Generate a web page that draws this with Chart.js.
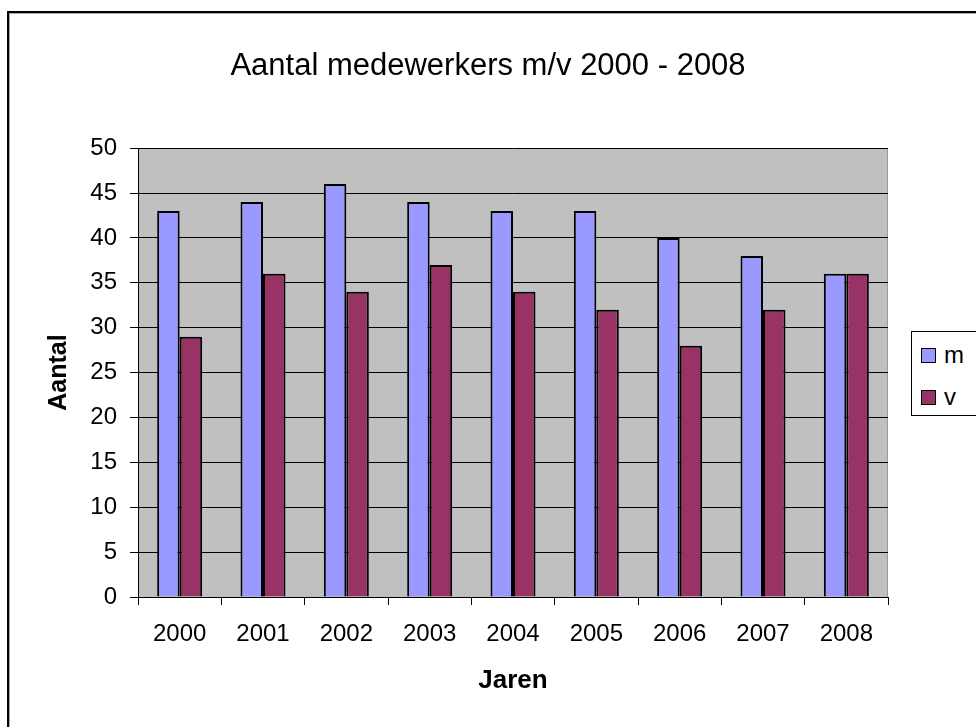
<!DOCTYPE html>
<html>
<head>
<meta charset="utf-8">
<title>Aantal medewerkers m/v 2000 - 2008</title>
<script src="https://cdn.jsdelivr.net/npm/chart.js@4.4.1/dist/chart.umd.min.js"></script>
<style>
	html, body {
		margin: 0;
		padding: 0;
		background: #fff;
	}

	.chart-wrap {
		position: relative;
		width: 976px;
		height: 727px;
		overflow: hidden;
	}

	#chart {
		display: block;
	}

	.legend {
		position: absolute;
		left: 911px;
		top: 331px;
		width: 70px;
		height: 83px;
		border: 1px solid #000;
		background: #fff;
		font-family: "Liberation Sans", Arial, sans-serif;
		font-size: 24px;
		color: #000;
	}

	.legend-item {
		position: absolute;
		left: 9px;
		height: 16px;
		display: flex;
		align-items: center;
	}

	.legend-box {
		width: 13px;
		height: 13px;
		border: 1px solid #000;
		margin-right: 8px;
	}
</style>
</head>
<body>
<div class="chart-wrap">
	<canvas id="chart" width="976" height="727"></canvas>
	<div class="legend" id="legend"></div>
</div>
<script>
const years = ["2000", "2001", "2002", "2003", "2004", "2005", "2006", "2007", "2008"];
const mannen = [43, 44, 46, 44, 43, 43, 40, 38, 36];
const vrouwen = [29, 36, 34, 37, 34, 32, 28, 32, 36];
const seriesNames = ["m", "v"];

const plotGray = "#c0c0c0";
const fontFamily = "'Liberation Sans', Arial, sans-serif";

Chart.defaults.font.family = fontFamily;
Chart.defaults.color = "#000";

// grijze achtergrond van het plotgebied + kader rond de grafiek
const plotBackground = {
	id: "plotBackground",
	afterLayout(chart) {
		// titel boven het hele blad centreren, niet alleen boven het plotgebied
		if (chart.titleBlock) {
			chart.titleBlock.left = 0;
			chart.titleBlock.right = chart.width;
		}
	},
	beforeDraw(chart) {
		const { ctx, chartArea: a } = chart;
		ctx.save();
		ctx.fillStyle = "#fff";
		ctx.fillRect(0, 0, chart.width, chart.height);

		ctx.fillStyle = "#000";
		ctx.fillRect(7, 11, 2, chart.height - 11);
		ctx.fillRect(7, 11, chart.width - 7, 2);
		ctx.fillStyle = "#a8a8a8";
		ctx.fillRect(9, 13, 1, chart.height - 13);
		ctx.fillRect(9, 13, chart.width - 9, 1);

		ctx.fillStyle = plotGray;
		ctx.fillRect(a.left, a.top, a.right - a.left, a.bottom - a.top);
		ctx.fillStyle = "#9a9a9a";
		ctx.fillRect(a.right - 1, a.top, 1, a.bottom - a.top);
		ctx.restore();
	}
};

const chart = new Chart(document.getElementById("chart"), {
	type: "bar",
	data: {
		labels: years,
		datasets: [
			{
				label: seriesNames[0],
				data: mannen,
				backgroundColor: "#9999ff",
				borderColor: "#000",
				borderWidth: 2
			},
			{
				label: seriesNames[1],
				data: vrouwen,
				backgroundColor: "#993366",
				borderColor: "#000",
				borderWidth: 2
			}
		]
	},
	options: {
		responsive: false,
		animation: false,
		datasets: {
			bar: {
				categoryPercentage: 0.54,
				barPercentage: 1
			}
		},
		layout: {
			padding: { left: 8, right: 88, top: 12, bottom: 0 }
		},
		plugins: {
			legend: { display: false },
			tooltip: { enabled: false },
			title: {
				display: true,
				text: "Aantal medewerkers m/v 2000 - 2008",
				color: "#000",
				font: { size: 31, weight: "normal" },
				padding: { top: 36, bottom: 63 }
			}
		},
		scales: {
			x: {
				grid: {
					drawOnChartArea: false,
					drawTicks: true,
					tickLength: 8,
					tickColor: "#000",
					offset: true
				},
				border: { color: "#000", width: 1 },
				ticks: {
					color: "#000",
					font: { size: 24 },
					padding: 15,
					maxRotation: 0
				},
				title: {
					display: true,
					text: "Jaren",
					color: "#000",
					font: { size: 26, weight: "bold" },
					padding: { top: 0, bottom: 31 }
				},
				afterFit: (scale) => {
					scale.height = 130;
				}
			},
			y: {
				min: 0,
				max: 50,
				ticks: {
					stepSize: 5,
					color: "#000",
					font: { size: 24 },
					padding: 13
				},
				grid: {
					color: "#000",
					lineWidth: 1,
					tickLength: 8,
					tickColor: "#000"
				},
				border: { color: "#000", width: 1 },
				title: {
					display: true,
					text: "Aantal",
					color: "#000",
					font: { size: 25, weight: "bold" },
					padding: { top: 36, bottom: 0 }
				},
				afterFit: (scale) => {
					scale.width = 130;
				}
			}
		}
	},
	plugins: [plotBackground]
});

// legenda naast de grafiek, opgebouwd uit de datasets
const legend = document.getElementById("legend");
chart.data.datasets.forEach((ds, i) => {
	const item = document.createElement("div");
	item.className = "legend-item";
	item.style.top = (15 + i * 42) + "px";
	const box = document.createElement("span");
	box.className = "legend-box";
	box.style.background = ds.backgroundColor;
	const text = document.createElement("span");
	text.textContent = ds.label;
	item.appendChild(box);
	item.appendChild(text);
	legend.appendChild(item);
});
</script>
</body>
</html>
